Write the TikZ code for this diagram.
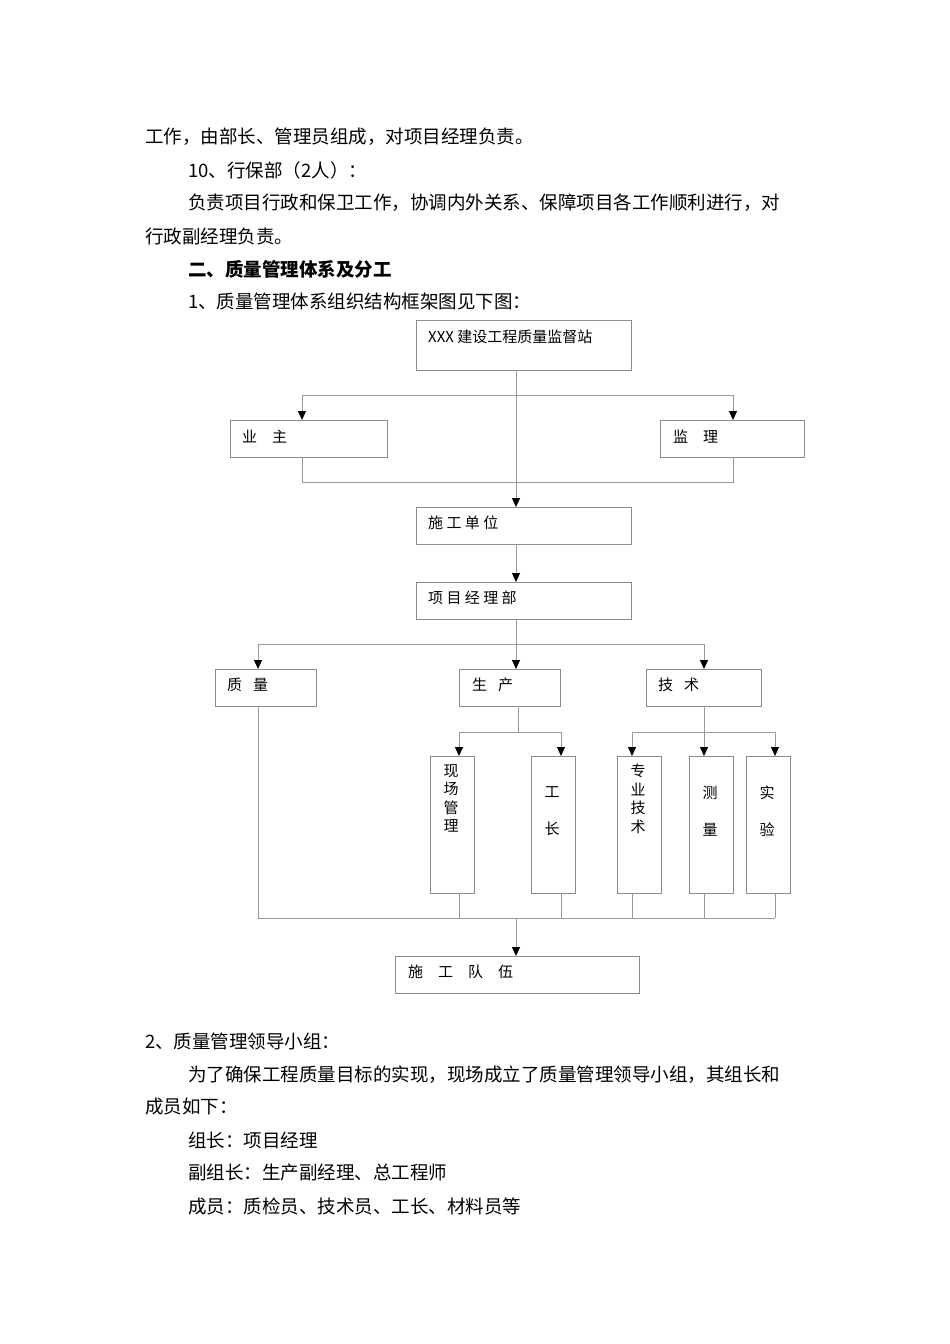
\documentclass[tikz,border=0pt]{standalone}
\usepackage{fontspec}
\setmainfont{Noto Sans CJK SC}
\usetikzlibrary{arrows.meta}
\begin{document}
\begin{tikzpicture}[x=1pt,y=-1pt,
  body/.style={anchor=west,inner sep=0pt,font=\fontsize{18.5}{20}\selectfont},
  bx/.style={draw=black!45,line width=0.8pt,inner sep=0pt},
  lbl/.style={anchor=west,inner sep=0pt,font=\fontsize{15}{16}\selectfont},
  vl/.style={inner sep=0pt,align=center,font=\fontsize{15}{18.5}\selectfont},
  ln/.style={draw=black!40,line width=0.8pt},
  ar/.style={ln,-{Triangle[length=9pt,width=8pt,fill=black,color=black]}}]
\useasboundingbox (0,0) rectangle (950,1344);
% text
\node[body] (t1) at (145,137) {工作，由部长、管理员组成，对项目经理负责。};
\node[body] (t2) at (188,170) {10、行保部（2人）：};
\node[body] (t3) at (188,203) {负责项目行政和保卫工作，协调内外关系、保障项目各工作顺利进行，对};
\node[body] (t4) at (145,236) {行政副经理负责。};
\node[body,font=\fontsize{18.5}{20}\selectfont\bfseries] (t5) at (188,269) {二、质量管理体系及分工};
\node[body] (t6) at (188,301) {1、质量管理体系组织结构框架图见下图：};
\node[body] (t7) at (145,1041) {2、质量管理领导小组：};
\node[body] (t8) at (188,1075) {为了确保工程质量目标的实现，现场成立了质量管理领导小组，其组长和};
\node[body] (t9) at (145,1107) {成员如下：};
\node[body] (t10) at (188,1140) {组长：项目经理};
\node[body] (t11) at (188,1173) {副组长：生产副经理、总工程师};
\node[body] (t12) at (188,1206) {成员：质检员、技术员、工长、材料员等};
% boxes
\path[bx] (416,320) rectangle (631,370); \coordinate (top) at (516,370);
\node[lbl] at (428,337) {XXX 建设工程质量监督站};
\path[bx] (230,420) rectangle (387,457); \node[lbl] at (242,437) {业\quad 主};
\path[bx] (660,420) rectangle (804,457); \node[lbl] at (673,437) {监\quad 理};
\path[bx] (416,507) rectangle (631,544); \node[lbl] at (428,523) {施 工 单 位};
\path[bx] (416,582) rectangle (631,619); \node[lbl] at (428,598) {项 目 经 理 部};
\path[bx] (215,669) rectangle (316,706); \node[lbl] at (227,685) {质\enspace\ 量};
\path[bx] (459,669) rectangle (560,706); \node[lbl] at (472,685) {生\enspace\ 产};
\path[bx] (646,669) rectangle (761,706); \node[lbl] at (658,685) {技\enspace\ 术};
\path[bx] (430,756) rectangle (474,893); \node[vl,anchor=north] at (451,764) {现\\场\\管\\理};
\path[bx] (531,756) rectangle (575,893); \node[vl] at (552,811) {工\\[18pt]长};
\path[bx] (617,756) rectangle (661,893); \node[vl,anchor=north] at (638,764) {专\\业\\技\\术};
\path[bx] (689,756) rectangle (733,893); \node[vl] at (710,811) {测\\[18pt]量};
\path[bx] (746,756) rectangle (790,893); \node[vl] at (767,811) {实\\[18pt]验};
\path[bx] (395,956) rectangle (639,993); \node[lbl] at (408,972) {施\quad 工\quad 队\quad 伍};
% connectors
\draw[ar] (516,370) -- (516,507);
\draw[ln] (302,395) -- (733,395);
\draw[ar] (302,395) -- (302,420);
\draw[ar] (733,395) -- (733,420);
\draw[ln] (302,457) -- (302,482) -- (733,482) -- (733,457);
\draw[ar] (516,544) -- (516,582);
\draw[ln] (516,619) -- (516,644); \draw[ln] (258,644) -- (704,644);
\draw[ar] (258,644) -- (258,669);
\draw[ar] (516,644) -- (516,669);
\draw[ar] (704,644) -- (704,669);
\draw[ln] (518,706) -- (518,732); \draw[ln] (459,732) -- (561,732);
\draw[ar] (459,732) -- (459,756);
\draw[ar] (561,732) -- (561,756);
\draw[ln] (632,732) -- (775,732);
\draw[ar] (704,706) -- (704,756);
\draw[ar] (632,732) -- (632,756);
\draw[ar] (775,732) -- (775,756);
\draw[ln] (258,706) -- (258,918) -- (775,918);
\foreach \x in {459,561,632,704,775} \draw[ln] (\x,893) -- (\x,918);
\draw[ar] (516,918) -- (516,956);
\end{tikzpicture}
\end{document}
